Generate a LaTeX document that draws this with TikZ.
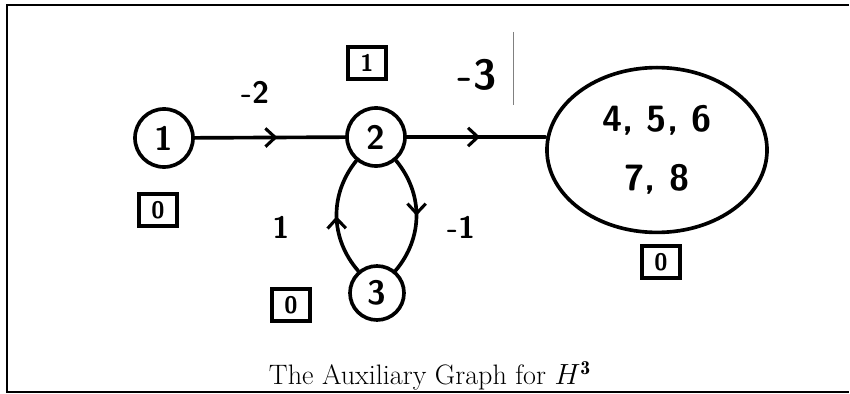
\documentclass[tikz,border=0pt]{standalone}
\usepackage{fontspec}
\usetikzlibrary{positioning, shapes.geometric, arrows.meta, decorations.markings}

\begin{document}
\begin{tikzpicture}[
    x=0.025cm, y=-0.025cm,
    pen/.style={line width=2.6pt, line cap=round},
    vertex/.style={circle, draw, pen, minimum size=1.45cm, inner sep=0pt, font=\sffamily\bfseries\fontsize{24}{26}\selectfont},
    cluster/.style={ellipse, draw, pen, minimum width=5.5cm, minimum height=4.12cm, align=center, font=\sffamily\bfseries\fontsize{26}{42}\selectfont},
    weight/.style={font=\sffamily\bfseries\fontsize{22}{24}\selectfont},
    potential/.style={rectangle, draw, line width=2.5pt, minimum width=0.95cm, minimum height=0.8cm, inner sep=0pt, font=\sffamily\bfseries\fontsize{17}{18}\selectfont},
    midarrow/.style={pen, postaction={decorate}, decoration={markings, mark=at position #1 with {\arrow{Straight Barb[length=7pt, width=13pt, line width=2.2pt]}}}},
    midarrow/.default=0.55
]
    \useasboundingbox (0,0) rectangle (850,394);

    % --- FRAME ---
    \draw[line width=1.6pt] (849,5) -- (7,5) -- (7,392) -- (849,392);
    \draw[line width=0.6pt, gray] (513,32) -- (513,105);

    % --- VERTICES ---
    \node (one) [vertex] at (164,138) {1};
    \node (two) [vertex] at (376,137) {2};
    \node (three) [vertex, minimum size=1.35cm] at (377,293) {3};
    \node (big) [cluster] at (657,150) {4, 5, 6\\7, 8};

    % --- POTENTIALS ---
    \node (pot_two) [potential] at (367,63) {1};
    \node (pot_one) [potential] at (158,210) {0};
    \node (pot_three) [potential] at (291,305) {0};
    \node (pot_big) [potential] at (661,262) {0};

    % --- EDGES ---
    \draw[midarrow] (one) -- (two);
    \draw[midarrow=0.53] (two.east) -- (two.east -| big.west);
    \draw[midarrow=0.5] (three) to[bend left=40] (two);
    \draw[midarrow=0.5] (two) to[bend left=40] (three);

    % --- WEIGHTS ---
    \node (w_one_two) [weight] at (255,92) {-2};
    \node (w_two_big) [weight, font=\sffamily\bfseries\fontsize{30}{32}\selectfont] at (477,75) {-3};
    \node (w_three_two) [weight] at (281,227) {1};
    \node (w_two_three) [weight] at (461,227) {-1};

    % --- CAPTION ---
    \node (caption) [font=\fontsize{20}{24}\selectfont] at (430,376) {The Auxiliary Graph for $H^{\mathbf{3}}$};

\end{tikzpicture}
\end{document}
